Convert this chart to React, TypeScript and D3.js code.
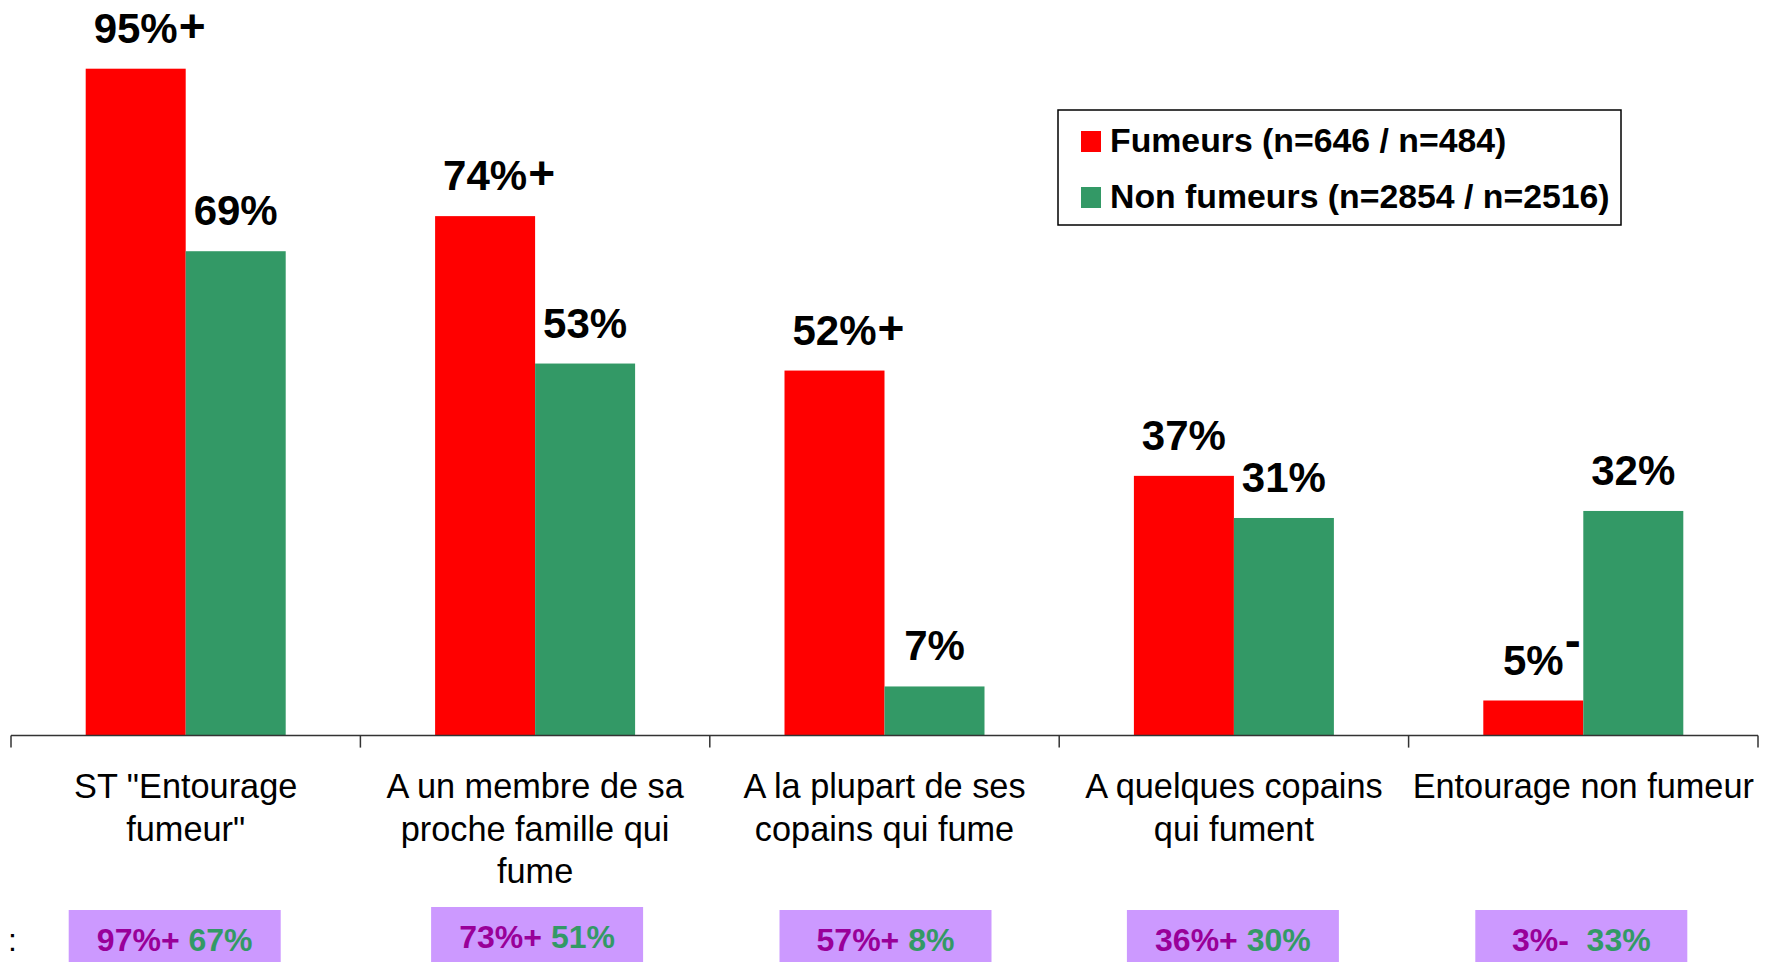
import React, { useEffect, useRef } from "react";
import * as d3 from "d3";

// Categories (x axis) and their label lines as drawn
const categories = [
  'ST "Entourage fumeur"',
  "A un membre de sa proche famille qui fume",
  "A la plupart de ses copains qui fume",
  "A quelques copains qui fument",
  "Entourage non fumeur",
];
const categoryLines = [
  ['ST "Entourage', 'fumeur"'],
  ["A un membre de sa", "proche famille qui", "fume"],
  ["A la plupart de ses", "copains qui fume"],
  ["A quelques copains", "qui fument"],
  ["Entourage non fumeur"],
];

// Series
const seriesKeys = ["fumeurs", "nonFumeurs"];
const seriesNames = ["Fumeurs (n=646 / n=484)", "Non fumeurs (n=2854 / n=2516)"];
const seriesColors = ["#FF0000", "#339966"];

// Current values (%)
const fumeurs = [95, 74, 52, 37, 5];
const nonFumeurs = [69, 53, 7, 31, 32];
const fumeursSigns = ["+", "+", "+", "", "-"];
const nonFumeursSigns = ["", "", "", "", ""];

// Previous wave values shown in the boxes below
const prevFumeurs = [97, 73, 57, 36, 3];
const prevFumeursSigns = ["+", "+", "+", "+", "-"];
const prevNonFumeurs = [67, 51, 8, 30, 33];

const FONT = "'Liberation Sans', Arial, Helvetica, sans-serif";

const App = () => {
  const ref = useRef<SVGSVGElement>(null);

  useEffect(() => {
    const svg = d3.select(ref.current);
    svg.selectAll("*").remove();

    const W = 1769;
    const H = 962;
    const axisY = 735.6;

    const x0 = d3.scaleBand().domain(categories).range([11, 1758]);
    const x1 = d3
      .scaleBand()
      .domain(seriesKeys)
      .range([0, x0.bandwidth()])
      .paddingOuter(0.747);
    const y = d3.scaleLinear().domain([0, 100]).range([axisY, 33.6]);

    svg.append("rect").attr("width", W).attr("height", H).attr("fill", "white");

    const values = [fumeurs, nonFumeurs];
    const signs = [fumeursSigns, nonFumeursSigns];

    // Bars
    seriesKeys.forEach((key, s) => {
      svg
        .append("g")
        .selectAll("rect")
        .data(values[s])
        .enter()
        .append("rect")
        .attr("x", (d, i) => x0(categories[i])! + x1(key)!)
        .attr("y", (d) => y(d))
        .attr("width", x1.bandwidth())
        .attr("height", (d) => axisY - y(d))
        .attr("fill", seriesColors[s]);
    });

    // Value labels, with the significance sign set high after the number
    seriesKeys.forEach((key, s) => {
      values[s].forEach((v, i) => {
        const cx = x0(categories[i])! + x1(key)! + x1.bandwidth() / 2;
        const ty = y(v) - 26;
        const t = svg
          .append("text")
          .attr("x", cx)
          .attr("y", ty)
          .attr("text-anchor", "middle")
          .attr("font-family", FONT)
          .attr("font-weight", "bold")
          .attr("font-size", 42)
          .attr("fill", "black")
          .text(`${v}%`);
        const sign = signs[s][i];
        if (sign) {
          const w = (t.node() as SVGTextElement).getComputedTextLength();
          const minus = sign === "-";
          svg
            .append("text")
            .attr("x", cx + w / 2 + 1)
            .attr("y", ty - (minus ? 18 : 1))
            .attr("font-family", FONT)
            .attr("font-weight", "bold")
            .attr("font-size", minus ? 48 : 46)
            .attr("fill", "black")
            .text(sign);
        }
      });
    });

    // Axis line + ticks at category boundaries
    svg
      .append("line")
      .attr("x1", 11)
      .attr("x2", 1758)
      .attr("y1", axisY)
      .attr("y2", axisY)
      .attr("stroke", "#333")
      .attr("stroke-width", 1.5);
    const bounds = [...categories.map((c) => x0(c)!), 1758];
    svg
      .append("g")
      .selectAll("line")
      .data(bounds)
      .enter()
      .append("line")
      .attr("x1", (d) => d)
      .attr("x2", (d) => d)
      .attr("y1", axisY)
      .attr("y2", axisY + 12)
      .attr("stroke", "#333")
      .attr("stroke-width", 1.5);

    // Category labels
    categoryLines.forEach((lines, i) => {
      const cx = x0(categories[i])! + x0.bandwidth() / 2;
      const t = svg
        .append("text")
        .attr("text-anchor", "middle")
        .attr("font-family", FONT)
        .attr("font-size", 34.3)
        .attr("fill", "black");
      lines.forEach((line, j) => {
        t.append("tspan")
          .attr("x", cx)
          .attr("y", 798 + j * 42.5)
          .text(line);
      });
    });

    // Previous wave boxes
    const boxNudge = [-11, 2, 1, -1, -2];
    const boxTop = [910, 907, 910, 910, 910];
    categories.forEach((c, i) => {
      const cx = x0(c)! + x0.bandwidth() / 2 + boxNudge[i];
      svg
        .append("rect")
        .attr("x", cx - 106)
        .attr("y", boxTop[i])
        .attr("width", 212)
        .attr("height", 60)
        .attr("fill", "#CC99FF");
      const t = svg
        .append("text")
        .attr("x", cx)
        .attr("y", boxTop[i] + 41)
        .attr("text-anchor", "middle")
        .attr("font-family", FONT)
        .attr("font-weight", "bold")
        .attr("font-size", 32)
        .style("white-space", "pre");
      t.append("tspan")
        .attr("fill", "#990099")
        .text(`${prevFumeurs[i]}%${prevFumeursSigns[i]}`);
      t.append("tspan")
        .attr("fill", "#339966")
        .text(`${prevFumeursSigns[i] === "-" ? "  " : " "}${prevNonFumeurs[i]}%`);
    });

    svg
      .append("text")
      .attr("x", 8)
      .attr("y", 951)
      .attr("font-family", FONT)
      .attr("font-size", 32)
      .attr("fill", "black")
      .text(":");

    // Legend
    const lg = svg.append("g");
    lg.append("rect")
      .attr("x", 1058)
      .attr("y", 110)
      .attr("width", 563)
      .attr("height", 115)
      .attr("fill", "white")
      .attr("stroke", "black")
      .attr("stroke-width", 1.5);
    const legendBase = [152, 208];
    seriesNames.forEach((name, s) => {
      lg.append("rect")
        .attr("x", 1081)
        .attr("y", legendBase[s] - 21)
        .attr("width", 20)
        .attr("height", 21)
        .attr("fill", seriesColors[s]);
      lg.append("text")
        .attr("x", 1110)
        .attr("y", legendBase[s])
        .attr("font-family", FONT)
        .attr("font-weight", "bold")
        .attr("font-size", 33.8)
        .attr("fill", "black")
        .text(name);
    });
  }, []);

  return (
    <svg
      ref={ref}
      width={1769}
      height={962}
      style={{ position: "absolute", left: 0, top: 0, display: "block" }}
    />
  );
};

export default App;
